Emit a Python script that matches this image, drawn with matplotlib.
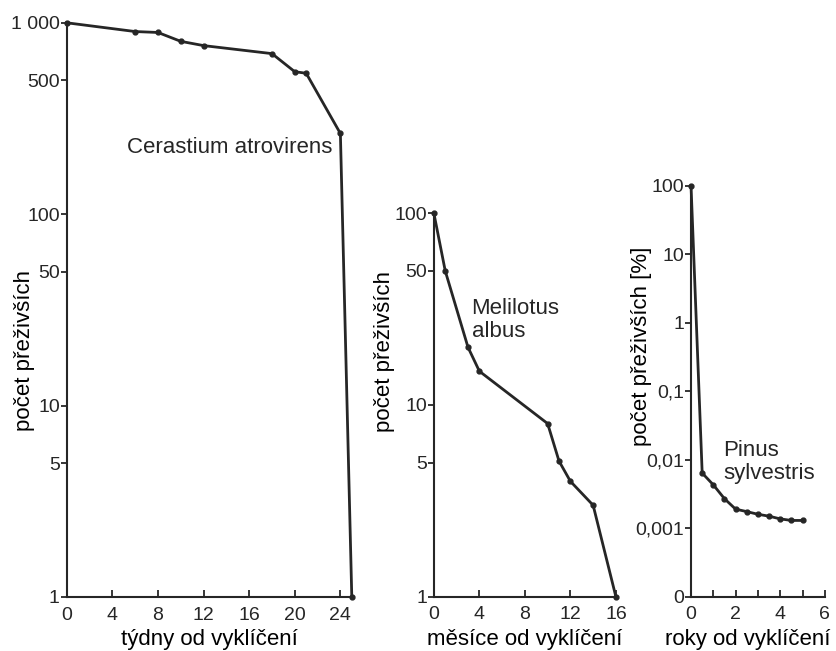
import matplotlib
matplotlib.use("Agg")
import matplotlib.pyplot as plt

plt.rcParams['font.family'] = ['Liberation Sans', 'DejaVu Sans']

# Cerastium atrovirens (weeks)
cer_weeks = [0, 6, 8, 10, 12, 18, 20, 21, 24, 25]
cer_surv = [1000, 900, 890, 800, 760, 690, 555, 545, 264, 1]

# Melilotus albus (months)
mel_months = [0, 1, 3, 4, 10, 11, 12, 14, 16]
mel_surv = [100, 50, 20, 15, 8, 5.1, 4, 3, 1]

# Pinus sylvestris (years, %)
pin_years = [0, 0.5, 1, 1.5, 2, 2.5, 3, 3.5, 4, 4.5, 5]
pin_surv = [100, 0.0064, 0.0043, 0.0027, 0.0019, 0.00175, 0.0016, 0.0015, 0.00137, 0.0013, 0.0013]

cer_yticks = [1, 5, 10, 50, 100, 500, 1000]
cer_ylabels = ['1', '5', '10', '50', '100', '500', '1 000']
mel_yticks = [1, 5, 10, 50, 100]
mel_ylabels = ['1', '5', '10', '50', '100']
pin_yticks = [1e-4, 1e-3, 1e-2, 1e-1, 1, 10, 100]
pin_ylabels = ['0', '0,001', '0,01', '0,1', '1', '10', '100']

ylab = 'počet přeživších'
col = '#262626'
fs = 16

fig = plt.figure(figsize=(8.36, 6.51), dpi=100)
ax1 = fig.add_axes([0.0798, 0.083, 0.341, 0.882])
ax2 = fig.add_axes([0.519, 0.0834, 0.2177, 0.589])
ax3 = fig.add_axes([0.8266, 0.0834, 0.160, 0.631])


def style(ax):
    for s in ['top', 'right']:
        ax.spines[s].set_visible(False)
    for s in ['left', 'bottom']:
        ax.spines[s].set_linewidth(1.5)
        ax.spines[s].set_color(col)
    ax.tick_params(axis='y', direction='out', length=4, width=1.3, pad=1,
                   labelsize=14, colors=col)
    ax.tick_params(axis='x', direction='in', length=5, width=1.3, pad=7,
                   labelsize=14, colors=col)
    ax.minorticks_off()


for ax, x, y in [(ax1, cer_weeks, cer_surv), (ax2, mel_months, mel_surv),
                 (ax3, pin_years, pin_surv)]:
    ax.set_yscale('log')
    ax.plot(x, y, color=col, lw=2, marker='o', ms=3.5, clip_on=False)
    style(ax)

ax1.set_xlim(0, 25)
ax1.set_ylim(1, 1000)
ax1.set_xticks(range(0, 25, 4))
ax1.set_yticks(cer_yticks, cer_ylabels)
ax1.minorticks_off()
ax1.set_xlabel('týdny od vyklíčení', fontsize=fs)
ax1.xaxis.set_label_coords(0.5, -0.056)
ax1.set_ylabel(ylab, fontsize=fs)
ax1.yaxis.set_label_coords(-0.111, 0.43)
ax1.text(0.2116, 0.7836, 'Cerastium atrovirens', transform=ax1.transAxes,
         fontsize=fs, va='center', ha='left', color=col)

ax2.set_xlim(0, 16)
ax2.set_ylim(1, 100)
ax2.set_xticks(range(0, 17, 4))
ax2.set_yticks(mel_yticks, mel_ylabels)
ax2.minorticks_off()
ax2.set_xlabel('měsíce od vyklíčení', fontsize=fs)
ax2.xaxis.set_label_coords(0.5, -0.083)
ax2.set_ylabel(ylab, fontsize=fs)
ax2.yaxis.set_label_coords(-0.214, 0.64)
ax2.text(0.207, 0.722, 'Melilotus\nalbus', transform=ax2.transAxes,
         fontsize=fs, va='center', ha='left', color=col, linespacing=1.1)

ax3.set_xlim(0, 6)
ax3.set_ylim(1e-4, 100)
ax3.set_xticks(range(0, 7), ['0', '', '2', '', '4', '', '6'])
ax3.set_yticks(pin_yticks, pin_ylabels)
ax3.minorticks_off()
ax3.set_xlabel('roky od vyklíčení', fontsize=fs)
ax3.xaxis.set_label_coords(0.42, -0.078)
ax3.set_ylabel(ylab + ' [%]', fontsize=fs)
ax3.yaxis.set_label_coords(-0.29, 0.61)
ax3.text(0.239, 0.328, 'Pinus\nsylvestris', transform=ax3.transAxes,
         fontsize=fs, va='center', ha='left', color=col, linespacing=1.1)

fig.savefig('out.png', dpi=100, facecolor='white')
